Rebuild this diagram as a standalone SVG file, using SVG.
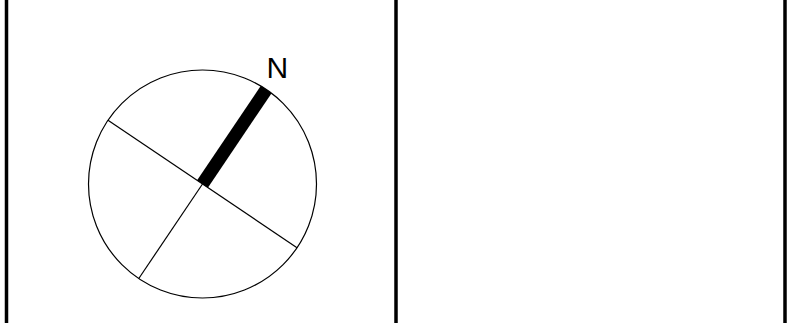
<svg xmlns="http://www.w3.org/2000/svg" width="796" height="323" viewBox="0 0 796 323">
<style>
.frame{stroke:#000;stroke-width:3.5;fill:none}
.thin{stroke:#000;stroke-width:1.2;fill:none}
.needle{stroke:#000;stroke-width:13;stroke-linecap:butt;fill:none}
.lbl{font-family:"Liberation Sans",Arial,sans-serif;font-size:30px;fill:#000}
</style>
<rect width="796" height="323" fill="#fff"/>
<g id="frames">
<line class="frame" x1="6.5" y1="0" x2="6.5" y2="323"/>
<line class="frame" x1="396" y1="0" x2="396" y2="323"/>
<line class="frame" x1="785" y1="0" x2="785" y2="323"/>
</g>
<g id="compass">
<circle class="thin" cx="202.5" cy="184" r="114"/>
<line class="thin" x1="108" y1="120.3" x2="297" y2="247.7"/>
<line class="thin" x1="202.5" y1="184" x2="138.8" y2="278.5"/>
<line class="needle" x1="202.5" y1="184" x2="266.2" y2="89.5"/>
<text class="lbl" x="266.5" y="77.5">N</text>
</g>
</svg>
